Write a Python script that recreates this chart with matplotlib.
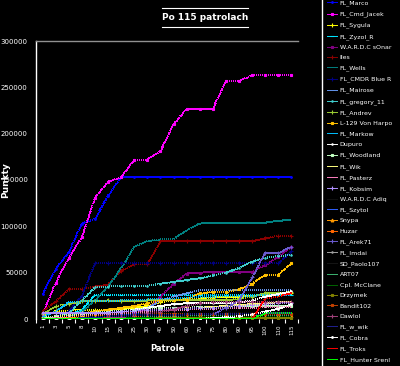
import matplotlib
matplotlib.use('Agg')
import matplotlib.pyplot as plt
from matplotlib.lines import Line2D
import numpy as np

patrole = ["1", "3", "5", "8", "10", "15", "20", "25", "30", "40", "50", "60",
           "70", "75", "80", "90", "95", "100", "110", "115"]

# wyniki w tysiacach punktow
fl_marco = [27, 54, 72, 103, 108, 133, 153, 153, 153, 153, 153, 153, 153, 153, 153, 153, 153, 153, 153, 153]
fl_cmd_jacek = [5, 39, 66, 88, 131, 148, 153, 172, 172, 181, 210, 227, 227, 227, 257, 257, 263, 263, 263, 263]
fl_sygula = [2, 9, 9, 10, 10, 10, 11, 12, 14, 18, 20, 22, 22, 23, 24, 24, 25, 26, 27, 28]
fl_zyzol = [0, 2, 4, 10, 26, 26, 26, 26, 26, 26, 26, 26, 26, 26, 26, 26, 26, 26, 26, 26]
wardc_sonar = [0, 0, 1, 2, 3, 4, 5, 6, 10, 24, 38, 49, 50, 51, 51, 51, 51, 58, 67, 78]
iles = [8, 19, 32, 32, 35, 37, 52, 59, 59, 84, 84, 84, 84, 84, 84, 84, 84, 87, 90, 90]
fl_wells = [0, 0, 2, 8, 20, 35, 55, 78, 84, 86, 86, 96, 103, 104, 104, 104, 104, 104, 106, 107]
fl_cmdr = [0, 2, 8, 25, 60, 60, 60, 60, 60, 60, 60, 60, 60, 60, 60, 60, 60, 60, 60, 73]
fl_mairose = [0, 0, 0, 1, 2, 3, 5, 8, 12, 20, 24, 28, 31, 31, 31, 31, 31, 31, 31, 31]
fl_gregory = [0, 2, 6, 20, 34, 35, 36, 36, 36, 38, 40, 42, 44, 47, 50, 55, 62, 66, 68, 69]
fl_andrev = [5, 14, 16, 19, 19, 20, 19, 19, 20, 20, 20, 20, 20, 20, 20, 22, 24, 28, 28, 29]
l129 = [0, 2, 4, 6, 8, 10, 12, 14, 17, 20, 21, 21, 28, 29, 29, 32, 38, 48, 48, 60]
fl_markow = [2, 8, 18, 19, 19, 19, 20, 20, 21, 22, 22, 23, 24, 24, 25, 25, 25, 26, 26, 26]
dupuro = [0, 1, 2, 3, 4, 6, 8, 10, 12, 14, 16, 17, 17, 17, 17, 18, 20, 24, 27, 30]
fl_woodland = [1, 3, 5, 6, 7, 8, 9, 10, 11, 12, 12, 12, 13, 13, 13, 13, 14, 14, 14, 14]
fl_wik = [0, 2, 4, 5, 6, 7, 8, 8, 9, 10, 11, 12, 12, 13, 14, 15, 16, 17, 18, 18]
fl_pasterz = [0, 1, 2, 3, 4, 5, 6, 7, 8, 9, 10, 10, 11, 11, 12, 12, 12, 13, 13, 13]
fl_kobsim = [6, 6, 6, 6, 6, 7, 8, 9, 10, 10, 11, 11, 12, 12, 13, 14, 15, 16, 17, 17]
wardc_adiq = [0, 0, 1, 1, 2, 2, 3, 3, 4, 4, 5, 5, 5, 5, 6, 6, 6, 6, 6, 6]
fl_szytol = [0, 0, 1, 1, 2, 3, 4, 5, 5, 5, 5, 5, 5, 5, 5, 5, 5, 5, 5, 5]
snypa = [0, 0, 1, 2, 3, 3, 3, 3, 3, 3, 3, 3, 3, 3, 3, 3, 3, 3, 3, 3]
huzar = [0, 0, 0, 1, 1, 2, 2, 3, 4, 5, 5, 5, 5, 5, 5, 5, 5, 5, 5, 5]
fl_arek = [0, 0, 0, 0, 0, 0, 0, 0, 0, 0, 0, 0, 2, 5, 12, 20, 45, 71, 71, 78]
fl_imdai = [1, 1, 1, 1, 1, 1, 1, 1, 1, 1, 1, 1, 1, 1, 1, 1, 1, 1, 1, 1]
sd_paolo = [0, 0, 0, 0, 1, 1, 1, 1, 1, 1, 1, 1, 1, 1, 1, 1, 1, 1, 1, 1]
art07 = [0, 0, 0, 0, 0, 1, 1, 1, 2, 2, 2, 3, 3, 3, 3, 3, 3, 3, 3, 3]
mcclane = [0, 0, 0, 0, 0, 0, 1, 1, 1, 1, 1, 2, 2, 2, 2, 2, 2, 2, 2, 2]
drzymek = [0, 0, 0, 0, 0, 0, 0, 0, 0, 1, 1, 1, 1, 1, 1, 1, 1, 1, 1, 1]
bandit = [0, 0, 0, 0, 1, 2, 3, 4, 5, 5, 5, 5, 5, 5, 5, 5, 5, 5, 5, 5]
dawlol = [0, 0, 0, 0, 0, 1, 2, 4, 6, 8, 10, 14, 17, 18, 18, 18, 18, 18, 18, 18]
fl_w_wik = [0, 0, 0, 1, 2, 3, 3, 4, 4, 4, 4, 5, 5, 5, 5, 5, 5, 6, 6, 6]
fl_cobra = [0, 0, 0, 0, 0, 0, 0, 0, 0, 0, 0, 0, 0, 1, 2, 3, 5, 8, 11, 16]
fl_troks = [0, 0, 0, 0, 0, 0, 0, 0, 0, 0, 0, 0, 0, 0, 0, 0, 0, 22, 24, 28]
fl_hunter = [0, 0, 0, 0, 0, 0, 0, 0, 0, 0, 0, 0, 0, 0, 0, 0, 0, 6, 6, 6]

series = [
    ("FL_Marco", fl_marco, '#0000ff', 'o', 1.2),
    ("FL_Cmd_Jacek", fl_cmd_jacek, '#ff00ff', 's', 2),
    ("FL_Sygula", fl_sygula, '#ffff00', '+', 2.5),
    ("FL_Zyzol_R", fl_zyzol, '#00e5ff', '_', 3),
    ("W.A.R.D.C sOnar", wardc_sonar, '#800080', 's', 1.8),
    ("Iles", iles, '#8b0000', '+', 3),
    ("FL_Wells", fl_wells, '#008080', '', 0),
    ("FL_CMDR Blue R", fl_cmdr, '#000080', '+', 3),
    ("FL_Mairose", fl_mairose, '#6495ed', '', 0),
    ("FL_gregory_11", fl_gregory, '#40d0d0', '.', 2),
    ("FL_Andrev", fl_andrev, '#9acd32', '+', 3),
    ("L-129 Von Harpo", l129, '#ffc000', 's', 2),
    ("FL_Markow", fl_markow, '#00bfff', '', 0),
    ("Dupuro", dupuro, '#ffffff', '.', 2),
    ("FL_Woodland", fl_woodland, '#c0ffc0', 's', 1.8),
    ("FL_Wik", fl_wik, '#ffff80', '', 0),
    ("FL_Pasterz", fl_pasterz, '#ff80c0', '', 0),
    ("FL_Kobsim", fl_kobsim, '#b090ff', '+', 3),
    ("W.A.R.D.C Adiq", wardc_adiq, '#101010', '', 0),
    ("FL_Szytol", fl_szytol, '#3060ff', '', 0),
    ("Snypa", snypa, '#ff9900', '^', 2),
    ("Huzar", huzar, '#ff6600', 's', 2),
    ("FL_Arek71", fl_arek, '#6a5acd', '+', 3),
    ("FL_Imdai", fl_imdai, '#a0a0a0', '.', 2),
    ("SD_Paolo107", sd_paolo, '#151515', '', 0),
    ("ART07", art07, '#3cb371', '', 0),
    ("Cpl. McClane", mcclane, '#006400', '', 0),
    ("Drzymek", drzymek, '#808000', 's', 2),
    ("Bandit102", bandit, '#c04000', 's', 2),
    ("Dawlol", dawlol, '#a0407a', '+', 3),
    ("FL_w_wik", fl_w_wik, '#202090', '', 0),
    ("FL_Cobra", fl_cobra, '#ffffff', 'o', 1.2),
    ("FL_Troks", fl_troks, '#ff0000', '', 0),
    ("FL_Hunter Srenl", fl_hunter, '#00ff00', '', 0),
]

fig = plt.figure(figsize=(4, 3.66), dpi=100, facecolor='black')
ax = fig.add_axes([36 / 400, 1 - 319 / 366, 262 / 400, 278 / 366], facecolor='black')

x = np.arange(len(patrole))
handles = []
for name, vals, col, mk, ms in series:
    ln, = ax.plot(x, np.array(vals) * 1000, color=col, lw=0.7, ls=(0, (1, 1.2)),
                  marker=mk or None, ms=ms, mew=0.8, antialiased=False, label=name)
    handles.append(ln)

ax.set_xlim(-0.5, len(patrole) - 0.5)
ax.set_ylim(0, 300000)
ax.set_yticks(np.arange(0, 300001, 50000))
ax.set_yticklabels([str(v) for v in range(0, 300001, 50000)], fontsize=5, color='white')
ax.set_yticks([0, 150000, 300000], minor=True)
ax.tick_params(axis='y', which='major', length=0, pad=6)
ax.tick_params(axis='y', which='minor', length=3, color='white', width=0.8)

ax.set_xticks(x)
ax.set_xticklabels(patrole, rotation=90, fontsize=4, color='white')
ax.set_xticks(np.arange(-0.5, len(patrole), 1), minor=True)
ax.tick_params(axis='x', which='major', length=0, pad=4)
ax.tick_params(axis='x', which='minor', length=3, color='white', width=0.8)

for s in ['right', 'bottom']:
    ax.spines[s].set_visible(False)
ax.spines['left'].set_color('white')
ax.spines['left'].set_linewidth(1)
ax.spines['top'].set_color('#909090')
ax.spines['top'].set_linewidth(1)

ax.set_ylabel('Punkty', color='white', fontsize=6.5, fontweight='bold')
ax.set_xlabel('Patrole', color='white', fontsize=6, fontweight='bold')
ax.xaxis.set_label_coords(0.5, -0.09)
ax.yaxis.set_label_coords(-0.1, 0.5)

# tytul w ramce z dwiema liniami
fig.text(205 / 400, 1 - 18 / 366, 'Po 115 patrolach', ha='center', va='center',
         color='white', fontsize=6.5, fontweight='bold')
for yy in [8, 27]:
    fig.add_artist(Line2D([162 / 400, 248 / 400], [1 - yy / 366] * 2, color='white', lw=0.8))

# legenda po prawej
fig.add_artist(Line2D([322 / 400] * 2, [0, 1], color='white', lw=1))
leg = fig.legend(handles, [s[0] for s in series], loc='upper left',
                 bbox_to_anchor=(326 / 400, 1 + 1 / 366), frameon=False, fontsize=4.5,
                 handlelength=1.6, handletextpad=0.4, labelspacing=0.8,
                 borderpad=0.2, borderaxespad=0)
for t in leg.get_texts():
    t.set_color('white')
for h in leg.legend_handles:
    h.set_linestyle('-')

fig.savefig('out.png', dpi=100, facecolor='black')
